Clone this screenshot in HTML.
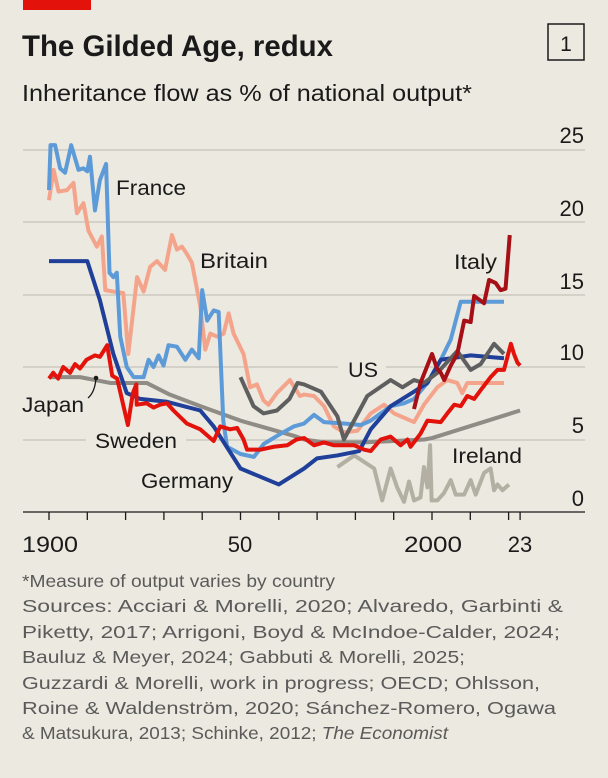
<!DOCTYPE html>
<html><head><meta charset="utf-8"><style>
html,body{margin:0;padding:0;background:#ebe9e0;}
svg{display:block;font-family:"Liberation Sans",sans-serif;}
</style></head><body>
<svg width="608" height="778" viewBox="0 0 608 778" xmlns="http://www.w3.org/2000/svg">
<rect width="608" height="778" fill="#ebe9e0"/>
<rect x="23" y="0" width="68" height="10" fill="#e3120b"/>
<text x="22" y="56" font-size="30" font-weight="bold" fill="#1a1a1a" textLength="311" lengthAdjust="spacingAndGlyphs">The Gilded Age, redux</text>
<rect x="548" y="24" width="36" height="36" fill="none" stroke="#1a1a1a" stroke-width="1.5"/>
<text x="566" y="51" font-size="21" text-anchor="middle" fill="#1a1a1a">1</text>
<text x="22" y="101" font-size="23" fill="#1a1a1a" textLength="450" lengthAdjust="spacingAndGlyphs">Inheritance flow as % of national output*</text>

<!-- gridlines -->
<g stroke="#c5c3ba" stroke-width="1.2">
<line x1="23" x2="585" y1="150" y2="150"/>
<line x1="23" x2="585" y1="222" y2="222"/>
<line x1="23" x2="585" y1="295" y2="295"/>
<line x1="23" x2="585" y1="367" y2="367"/>
<line x1="23" x2="585" y1="440" y2="440"/>
</g>
<line x1="23" x2="585" y1="512" y2="512" stroke="#1a1a1a" stroke-width="1.3"/>
<g stroke="#1a1a1a" stroke-width="1.3">
<line x1="49" x2="49" y1="512" y2="520"/><line x1="87.3" x2="87.3" y1="512" y2="520"/>
<line x1="125.6" x2="125.6" y1="512" y2="520"/><line x1="163.9" x2="163.9" y1="512" y2="520"/>
<line x1="202.2" x2="202.2" y1="512" y2="520"/><line x1="240.5" x2="240.5" y1="512" y2="520"/>
<line x1="278.8" x2="278.8" y1="512" y2="520"/><line x1="317.1" x2="317.1" y1="512" y2="520"/>
<line x1="355.4" x2="355.4" y1="512" y2="520"/><line x1="393.7" x2="393.7" y1="512" y2="520"/>
<line x1="432" x2="432" y1="512" y2="520"/><line x1="470.3" x2="470.3" y1="512" y2="520"/>
<line x1="508.6" x2="508.6" y1="512" y2="520"/><line x1="520.1" x2="520.1" y1="512" y2="520"/>
</g>
<g font-size="22" fill="#1a1a1a" text-anchor="end">
<text x="584" y="143">25</text><text x="584" y="216">20</text><text x="584" y="289">15</text>
<text x="584" y="360">10</text><text x="584" y="433">5</text><text x="584" y="506">0</text>
</g>
<g font-size="22" fill="#1a1a1a" text-anchor="middle">
<text x="50" y="552" textLength="56" lengthAdjust="spacingAndGlyphs">1900</text>
<text x="240" y="552">50</text>
<text x="433" y="552" textLength="58" lengthAdjust="spacingAndGlyphs">2000</text>
<text x="520" y="552">23</text>
</g>

<!-- label backgrounds breaking gridlines -->
<rect x="86" y="430" width="100" height="20" fill="#ebe9e0"/>
<rect x="338" y="358" width="48" height="20" fill="#ebe9e0"/>

<g transform="translate(49,512) scale(3.83,-14.5) translate(-1900,0)" fill="none" stroke-linejoin="round" stroke-linecap="butt">
<!-- Ireland -->
<polyline vector-effect="non-scaling-stroke" stroke="#b3b0a3" stroke-width="4" points="1975.3,3.1 1979.7,3.9 1984.9,3.0 1987,0.8 1989.2,3.0 1990.9,1.7 1992.7,0.7 1994,2.1 1995.3,0.8 1997,1.0 1997.9,3.1 1998.8,1.7 1999.5,4.6 1999.9,0.8 2001.4,0.8 2003.1,1.3 2004.9,2.2 2006.2,1.2 2008.4,1.2 2010.1,2.2 2011.4,1.2 2013.6,2.7 2015.3,3.0 2016.2,1.5 2017.1,1.9 2018.4,1.5 2020.1,1.9"/>
<!-- Japan -->
<polyline vector-effect="non-scaling-stroke" stroke="#8e8c84" stroke-width="4" points="1900,9.3 1908.1,9.3 1916,8.9 1925.5,8.9 1931.5,8.1 1939.5,7.3 1950,6.3 1964.6,5.2 1966.6,5.0 1971.8,4.8 1982.3,4.8 1998,5.0 2000,5.1 2023,7.0"/>
<!-- Britain -->
<polyline vector-effect="non-scaling-stroke" stroke="#f5a48c" stroke-width="4" points="1900,21.5 1901.2,23.6 1902.5,22.1 1904.7,22.2 1906.4,22.7 1907.3,20.6 1909,21.3 1910.3,19.4 1912.5,18.3 1913.8,19.0 1914.7,15.3 1916.9,15.2 1919.4,15.1 1920.7,10.9 1923,16.2 1924.7,15.2 1926.4,16.9 1928.2,17.3 1930.3,16.7 1932.1,19.1 1933.4,18.1 1934.7,18.3 1936,17.8 1937.3,17.2 1939.5,14.2 1940.8,11.2 1942.1,12.3 1943.9,12.1 1945.6,12.3 1946.9,13.7 1948.2,12.3 1950.8,10.9 1952.5,8.6 1954.3,8.8 1956,7.7 1957.3,7.4 1959.5,8.2 1962.9,9.1 1965.5,8.0 1966.6,8.1 1969.2,8.0 1971.8,7.3 1974.4,5.9 1977,5.5 1980.5,5.6 1984,6.8 1987.5,7.4 1990.1,6.8 1992.7,6.5 1995.3,6.2 1997.9,7.4 2001.4,8.6 2004,9.1 2006.6,8.9 2007.9,8.2 2009.2,8.9 2018.8,8.9"/>
<!-- France -->
<polyline vector-effect="non-scaling-stroke" stroke="#5d9bd8" stroke-width="4" points="1900,22.2 1900.4,25.3 1901.6,25.3 1902.9,23.7 1904.2,23.4 1905.8,25.3 1907.7,23.6 1909,23.7 1910,23.5 1910.7,24.5 1912,20.8 1913.3,22.9 1914.9,24.0 1915.8,16.5 1916.8,16.2 1917.7,16.5 1918.6,12.1 1920.3,10.0 1922.1,9.3 1924.7,9.3 1926,10.5 1927.3,10.0 1928.6,10.8 1929.9,10.1 1931.2,11.5 1933.4,11.4 1935.6,10.5 1937.3,11.2 1939.1,10.6 1940,15.3 1941.3,13.2 1943,13.9 1944.3,13.8 1945.5,6.3 1946.5,4.5 1950,4.0 1953.5,3.8 1956.1,4.7 1960.5,5.4 1963.9,5.9 1966.6,6.1 1969.2,6.7 1971.8,6.2 1977,6.1 1981.4,6.0 1984,6.3 1986.6,6.8 1989.2,7.3 1992.7,7.5 1995.3,7.8 1998.8,8.9 2002.3,10.5 2004.9,11.9 2007.5,14.5 2018.8,14.5"/>
<!-- Germany -->
<polyline vector-effect="non-scaling-stroke" stroke="#1f3f99" stroke-width="4" points="1900,17.3 1910,17.3 1913.3,14.6 1916.8,10.9 1920.3,8.2 1923.8,7.8 1930.8,7.6 1939.5,7.0 1943,5.9 1950,3.0 1960,1.9 1966.6,3.0 1970,3.7 1975.3,3.9 1981,4.2 1984,5.7 1989.2,7.3 1995.3,8.3 1998.8,8.9 2002.3,10.5 2007.5,10.7 2010.1,10.8 2018.8,10.6"/>
<!-- US -->
<polyline vector-effect="non-scaling-stroke" stroke="#5f5f5f" stroke-width="4" points="1950,9.3 1953.4,7.3 1956,6.8 1959.5,7.0 1962.8,7.8 1964.9,8.9 1966.6,8.8 1971,8.3 1975.3,6.6 1977,5.0 1983.1,8.0 1989.2,9.1 1992.3,8.6 1995.3,9.1 1997.9,8.9 2001.4,9.6 2006.6,11.1 2010.1,9.8 2012.7,10.2 2016.2,11.6 2018.8,10.9"/>
<!-- Sweden -->
<polyline vector-effect="non-scaling-stroke" stroke="#e3120b" stroke-width="4" points="1900,9.2 1901.1,9.6 1902.4,9.2 1903.7,10.0 1905.5,9.6 1906.8,10.2 1908.1,9.9 1909.8,10.5 1912,10.8 1913.3,10.7 1915.2,11.5 1916.5,9.4 1917.8,9.2 1919.1,7.7 1920.6,6.0 1921.9,8.2 1922.8,8.8 1922.9,7.4 1925.5,7.5 1927.3,7.2 1929,7.4 1930.8,7.5 1932.5,7.0 1936,6.1 1939.5,5.7 1943,4.9 1944.7,5.9 1947.3,5.7 1949.1,5.8 1950.8,5.0 1951.7,4.3 1955.2,4.3 1958.7,4.5 1962.2,4.6 1964.6,5.0 1966.6,5.1 1969.2,4.6 1971.8,4.8 1974.4,4.6 1979.7,4.6 1982.3,4.3 1984,4.2 1986.6,5.0 1989.2,5.2 1991.8,4.6 1993.6,5.0 1994.4,4.5 1997,5.4 1998.8,6.3 2002.3,6.2 2004,6.8 2005.8,7.4 2007.5,7.3 2009.2,8.0 2011,7.8 2012.7,8.4 2015.3,9.3 2017.1,9.8 2018.8,9.8 2020.6,11.6 2021.4,10.9 2022.3,10.3 2023,10.1"/>
<!-- Italy -->
<polyline vector-effect="non-scaling-stroke" stroke="#a50f15" stroke-width="4" points="1995.3,7.1 1997,8.9 2000,10.9 2001.3,9.9 2002.3,9.6 2003.2,9.1 2004.9,10.1 2006.6,10.9 2008.4,13.2 2010.1,13.1 2011,14.9 2013.6,14.4 2014.9,16.0 2016.6,15.8 2017.9,15.3 2019.2,15.4 2020.3,19.1"/>
</g>

<!-- Japan leader -->
<path d="M96,378 Q95,392 88,398" fill="none" stroke="#1a1a1a" stroke-width="1.3"/>
<circle cx="96" cy="378" r="2.3" fill="#1a1a1a"/>

<g font-size="21" fill="#1a1a1a">
<text x="116" y="195" textLength="70" lengthAdjust="spacingAndGlyphs">France</text>
<text x="200" y="268" textLength="68" lengthAdjust="spacingAndGlyphs">Britain</text>
<text x="454" y="269" textLength="43" lengthAdjust="spacingAndGlyphs">Italy</text>
<text x="348" y="377" textLength="30" lengthAdjust="spacingAndGlyphs">US</text>
<text x="22" y="412" textLength="62" lengthAdjust="spacingAndGlyphs">Japan</text>
<text x="95" y="448" textLength="82" lengthAdjust="spacingAndGlyphs">Sweden</text>
<text x="141" y="488" textLength="92" lengthAdjust="spacingAndGlyphs">Germany</text>
<text x="452" y="463" textLength="70" lengthAdjust="spacingAndGlyphs">Ireland</text>
</g>

<g font-size="17.5" fill="#5a5a5a">
<text x="22" y="587" textLength="313" lengthAdjust="spacingAndGlyphs">*Measure of output varies by country</text>
<text x="22" y="612" textLength="541" lengthAdjust="spacingAndGlyphs">Sources: Acciari &amp; Morelli, 2020; Alvaredo, Garbinti &amp;</text>
<text x="22" y="638" textLength="538" lengthAdjust="spacingAndGlyphs">Piketty, 2017; Arrigoni, Boyd &amp; McIndoe-Calder, 2024;</text>
<text x="22" y="663" textLength="443" lengthAdjust="spacingAndGlyphs">Bauluz &amp; Meyer, 2024; Gabbuti &amp; Morelli, 2025;</text>
<text x="22" y="689" textLength="518" lengthAdjust="spacingAndGlyphs">Guzzardi &amp; Morelli, work in progress; OECD; Ohlsson,</text>
<text x="22" y="714" textLength="534" lengthAdjust="spacingAndGlyphs">Roine &amp; Waldenström, 2020; Sánchez-Romero, Ogawa</text>
<text x="22" y="739" textLength="426" lengthAdjust="spacingAndGlyphs">&amp; Matsukura, 2013; Schinke, 2012; <tspan font-style="italic">The Economist</tspan></text>
</g>
</svg>
</body></html>
